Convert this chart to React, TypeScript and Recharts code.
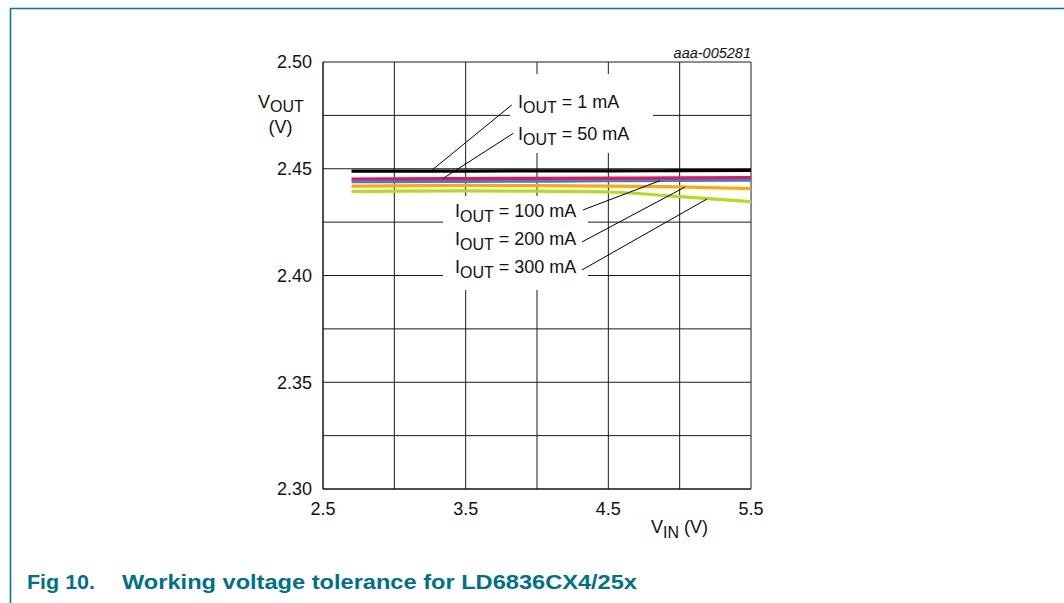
import React from 'react';
import {
  LineChart,
  Line,
  XAxis,
  YAxis,
  CartesianGrid,
  ReferenceArea,
  ReferenceLine,
  ReferenceDot
} from 'recharts';

// V_IN sample points (V)
const vin = [2.7, 3.0, 3.5, 4.0, 4.5, 5.0, 5.5];

// V_OUT (V) per load current
const iout1mA = [2.4489, 2.4489, 2.4489, 2.449, 2.449, 2.4491, 2.4492];
const iout50mA = [2.4452, 2.4453, 2.4454, 2.4455, 2.4456, 2.4457, 2.4459];
const iout100mA = [2.4439, 2.444, 2.4441, 2.4442, 2.4444, 2.4446, 2.4447];
const iout200mA = [2.4419, 2.442, 2.4422, 2.4421, 2.4419, 2.4415, 2.4407];
const iout300mA = [2.4393, 2.4395, 2.4396, 2.4395, 2.4391, 2.4369, 2.4346];

const xTicks = [2.5, 3.0, 3.5, 4.0, 4.5, 5.0, 5.5];
const yTicks = [2.3, 2.325, 2.35, 2.375, 2.4, 2.425, 2.45, 2.475, 2.5];

const data = vin.map((v, i) => ({
  vin: v,
  a1: iout1mA[i],
  a50: iout50mA[i],
  a100: iout100mA[i],
  a200: iout200mA[i],
  a300: iout300mA[i]
}));

const FONT = '"Liberation Sans", Arial, Helvetica, sans-serif';
const TEAL = '#0b7790';

// callout texts, anchored in data units (x, baseline y)
const callouts = [
  { text: '1 mA', x: 3.867, y: 2.4783 },
  { text: '50 mA', x: 3.867, y: 2.4635 },
  { text: '100 mA', x: 3.425, y: 2.4275 },
  { text: '200 mA', x: 3.425, y: 2.4143 },
  { text: '300 mA', x: 3.425, y: 2.401 }
];

// leader lines from label to curve
const leaders = [
  [{ x: 3.823, y: 2.4799 }, { x: 3.25, y: 2.4486 }],
  [{ x: 3.834, y: 2.4666 }, { x: 3.343, y: 2.4455 }],
  [{ x: 4.322, y: 2.4307 }, { x: 4.862, y: 2.4444 }],
  [{ x: 4.315, y: 2.4157 }, { x: 5.037, y: 2.4414 }],
  [{ x: 4.315, y: 2.4026 }, { x: 5.191, y: 2.4358 }]
];

const fmtY = (v: number) => (Math.abs(v * 20 - Math.round(v * 20)) < 1e-6 ? v.toFixed(2) : '');
const fmtX = (v: number) => (Math.abs(v - 0.5 - Math.round(v - 0.5)) < 1e-6 ? v.toFixed(1) : '');

const Callout = ({ cx, cy, text }: any) => (
  <text x={cx} y={cy} fontFamily={FONT} fontSize={18} fill="#111">
    <tspan>I</tspan>
    <tspan dy={5} fontSize={16}>OUT</tspan>
    <tspan dy={-5}>{` = ${text}`}</tspan>
  </text>
);

const tickStyle = { fill: '#111', fontSize: 18, fontFamily: FONT };

export default function App() {
  return (
    <div style={{ position: 'absolute', left: 0, top: 0, width: 1064, height: 603, background: '#fff' }}>
      <LineChart
        width={1064}
        height={603}
        data={data}
        margin={{ top: 62, right: 313, bottom: 74, left: 263 }}
      >
        <CartesianGrid stroke="#1a1a1a" strokeWidth={1} />
        <XAxis
          dataKey="vin"
          type="number"
          domain={[2.5, 5.5]}
          ticks={xTicks}
          interval={0}
          tickFormatter={fmtX}
          tickLine={false}
          tickMargin={7}
          axisLine={{ stroke: '#111' }}
          tick={tickStyle}
          height={40}
        />
        <YAxis
          type="number"
          domain={[2.3, 2.5]}
          ticks={yTicks}
          interval={0}
          tickFormatter={fmtY}
          tickLine={false}
          tickMargin={5}
          axisLine={{ stroke: '#111' }}
          tick={tickStyle}
          width={60}
        />
        <ReferenceArea x1={3.81} x2={4.813} y1={2.4574} y2={2.4944} fill="#fff" fillOpacity={1} stroke="none" />
        <ReferenceArea x1={3.341} x2={4.357} y1={2.3932} y2={2.4372} fill="#fff" fillOpacity={1} stroke="none" />
        <Line type="monotone" dataKey="a300" stroke="#b5dc1c" strokeWidth={3.2} dot={false} isAnimationActive={false} />
        <Line type="monotone" dataKey="a200" stroke="#f8ad00" strokeWidth={3.2} dot={false} isAnimationActive={false} />
        <Line type="monotone" dataKey="a100" stroke="#3c7fd2" strokeWidth={3.2} dot={false} isAnimationActive={false} />
        <Line type="monotone" dataKey="a50" stroke="#e0185b" strokeWidth={3.2} dot={false} isAnimationActive={false} />
        <Line type="monotone" dataKey="a1" stroke="#000" strokeWidth={3.2} dot={false} isAnimationActive={false} />
        {leaders.map((seg, i) => (
          <ReferenceLine key={`l${i}`} segment={seg} stroke="#000" strokeWidth={1} />
        ))}
        {callouts.map((c, i) => (
          <ReferenceDot
            key={`c${i}`}
            x={c.x}
            y={c.y}
            r={0}
            shape={(p: any) => <Callout cx={p.cx} cy={p.cy} text={c.text} />}
          />
        ))}
      </LineChart>

      <svg
        width={1064}
        height={603}
        style={{ position: 'absolute', left: 0, top: 0, pointerEvents: 'none' }}
      >
        <line x1={10} y1={8.5} x2={1064} y2={8.5} stroke={TEAL} strokeWidth={1.6} />
        <line x1={10.5} y1={8} x2={10.5} y2={603} stroke={TEAL} strokeWidth={1.6} />

        <text x={751} y={57.5} textAnchor="end" fontFamily={FONT} fontSize={14.5} fontStyle="italic" fill="#111">
          aaa-005281
        </text>

        <text x={258} y={108} fontFamily={FONT} fontSize={18} fill="#111">
          <tspan>V</tspan>
          <tspan dy={4} fontSize={16}>OUT</tspan>
        </text>
        <text x={280.5} y={133} textAnchor="middle" fontFamily={FONT} fontSize={18} fill="#111">
          (V)
        </text>

        <text x={651} y={533} fontFamily={FONT} fontSize={18} fill="#111">
          <tspan>V</tspan>
          <tspan dy={5} fontSize={16}>IN</tspan>
          <tspan dy={-5}> (V)</tspan>
        </text>

        <text
          x={27}
          y={589}
          fontFamily={FONT}
          fontSize={20}
          fontWeight="bold"
          fill="#00708a"
          textLength={68}
          lengthAdjust="spacingAndGlyphs"
        >
          Fig 10.
        </text>
        <text
          x={122}
          y={589}
          fontFamily={FONT}
          fontSize={20}
          fontWeight="bold"
          fill="#00708a"
          textLength={515}
          lengthAdjust="spacingAndGlyphs"
        >
          Working voltage tolerance for LD6836CX4/25x
        </text>
      </svg>
    </div>
  );
}
